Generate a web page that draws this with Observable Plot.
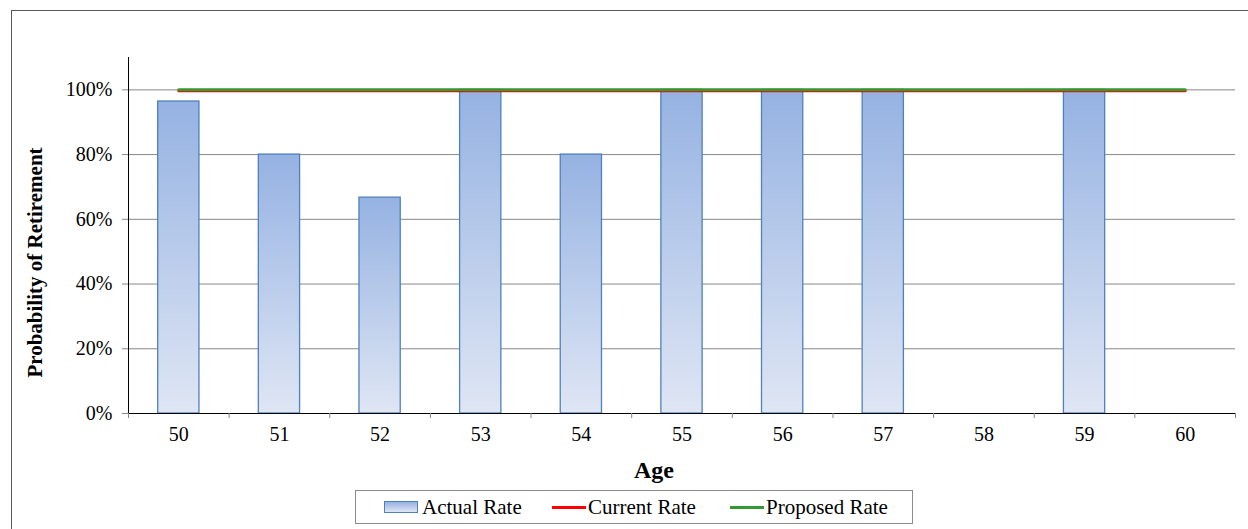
<!DOCTYPE html>
<html>
<head>
<meta charset="utf-8">
<script src="https://cdn.jsdelivr.net/npm/d3@7"></script>
<script src="https://cdn.jsdelivr.net/npm/@observablehq/plot@0.6"></script>
<style>
  html, body { margin: 0; padding: 0; background: #fff; width: 1248px; height: 529px; overflow: hidden; position: relative; }
  #frame { position: absolute; left: 11px; top: 10px; width: 1400px; height: 700px; border: 1px solid #595959; box-sizing: border-box; }
  #chart { position: absolute; left: 0; top: 0; }
  #chart svg { font-family: "Liberation Serif", serif !important; font-size: 20px !important; overflow: visible; background: transparent; }
  #chart svg text { font-family: "Liberation Serif", serif; }
  #legend { position: absolute; left: 355px; top: 490px; width: 558px; height: 34px; border: 1px solid #8c8c8c; box-sizing: border-box;
            font-family: "Liberation Serif", serif; font-size: 21px; color: #000; }
  .sw { position: absolute; }
  .lbl { position: absolute; top: 0; height: 32px; line-height: 32px; white-space: nowrap; }
</style>
</head>
<body>
<div id="frame"></div>
<div id="chart"></div>
<div id="legend"></div>
<script>
const ages = [50, 51, 52, 53, 54, 55, 56, 57, 58, 59, 60];
const actualRate = [0.964, 0.80, 0.667, 1.00, 0.80, 1.00, 1.00, 1.00, null, 1.00, null];
const currentRate = [1, 1, 1, 1, 1, 1, 1, 1, 1, 1, 1];
const proposedRate = [1, 1, 1, 1, 1, 1, 1, 1, 1, 1, 1];
const yTicks = [0, 0.2, 0.4, 0.6, 0.8, 1.0];
const seriesNames = ["Actual Rate", "Current Rate", "Proposed Rate"];
const seriesColors = ["#4f81bd", "#ff0000", "#339933"];

const actual = ages.map((a, i) => ({age: a, rate: actualRate[i]})).filter(d => d.rate != null);
const current = ages.map((a, i) => ({age: a, rate: currentRate[i]}));
const proposed = ages.map((a, i) => ({age: a, rate: proposedRate[i]}));
const bounds = ages.map(a => a - 0.5).concat([ages[ages.length - 1] + 0.5]);
const halfBar = 0.205;

const plot = Plot.plot({
  width: 1248,
  height: 480,
  marginLeft: 128,
  marginRight: 13,
  marginTop: 57,
  marginBottom: 67,
  style: "font-family: 'Liberation Serif', serif; font-size: 20px; background: transparent; overflow: visible; color: #000;",
  x: {type: "linear", domain: [ages[0] - 0.5, ages[ages.length - 1] + 0.5]},
  y: {domain: [0, 1.1]},
  marks: [
    Plot.gridY(yTicks.slice(1), {stroke: "#878787", strokeOpacity: 1}),
    Plot.rectY(actual, {x1: d => d.age - halfBar, x2: d => d.age + halfBar, y1: 0, y2: "rate",
      fill: "url(#barGrad)", stroke: seriesColors[0], strokeWidth: 1.3}),
    Plot.ruleX([bounds[0]], {stroke: "#000"}),
    Plot.ruleY([0], {stroke: "#000"}),
    Plot.lineY(current, {x: "age", y: "rate", stroke: seriesColors[1], strokeWidth: 3, dy: 0.8}),
    Plot.lineY(proposed, {x: "age", y: "rate", stroke: seriesColors[2], strokeWidth: 3}),
    Plot.axisY({ticks: yTicks, tickFormat: d3.format(".0%"), tickSize: 6, tickPadding: 10, stroke: "#878787", fontSize: 20, label: null}),
    Plot.axisX({ticks: bounds, tickFormat: () => "", tickSize: 5, stroke: "#878787", label: null}),
    Plot.axisX({ticks: ages, tickFormat: d => String(d), tickSize: 0, tickPadding: 13, fontSize: 20, label: null}),
    Plot.text(["Probability of Retirement"], {frameAnchor: "left", textAnchor: "middle", rotate: -90, dx: -93, dy: 27, fontWeight: "bold", fontSize: 21}),
    Plot.text(["Age"], {frameAnchor: "bottom", dx: -28, dy: 64, fontWeight: "bold", fontSize: 24})
  ]
});

const svg = d3.select(plot);
const defs = svg.insert("defs", ":first-child");
const grad = defs.append("linearGradient").attr("id", "barGrad").attr("x1", 0).attr("y1", 0).attr("x2", 0).attr("y2", 1);
grad.append("stop").attr("offset", "0%").attr("stop-color", "#95b2e2");
grad.append("stop").attr("offset", "100%").attr("stop-color", "#dfe6f4");
document.getElementById("chart").appendChild(plot);

// legend
const legend = d3.select("#legend");
const items = [
  {swLeft: 28, w: 34, textLeft: 66, sw: "rect", label: seriesNames[0], color: seriesColors[0]},
  {swLeft: 196, w: 34, textLeft: 232, sw: "line", label: seriesNames[1], color: seriesColors[1]},
  {swLeft: 374, w: 34, textLeft: 410, sw: "line", label: seriesNames[2], color: seriesColors[2]}
];
items.forEach(it => {
  const s = legend.append("div").attr("class", "sw").style("left", it.swLeft + "px").style("width", it.w + "px");
  if (it.sw === "rect") {
    s.style("top", "10px").style("height", "12px").style("border", "1.5px solid " + it.color).style("box-sizing", "border-box")
     .style("background", "linear-gradient(#95b2e2, #dfe6f4)");
  } else {
    s.style("top", "15px").style("height", "3px").style("background", it.color);
  }
  legend.append("div").attr("class", "lbl").style("left", it.textLeft + "px").text(it.label);
});
</script>
</body>
</html>
